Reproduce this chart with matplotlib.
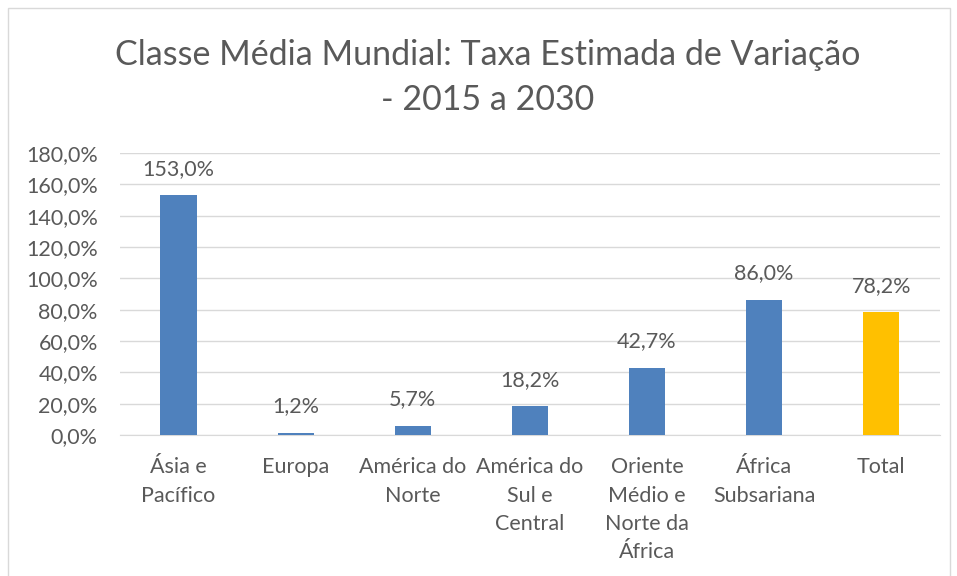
import matplotlib
matplotlib.use("Agg")
import matplotlib.pyplot as plt
from matplotlib.patches import Rectangle
from matplotlib.ticker import FuncFormatter

categories = [
    "Ásia e\nPacífico",
    "Europa",
    "América do\nNorte",
    "América do\nSul e\nCentral",
    "Oriente\nMédio e\nNorte da\nÁfrica",
    "África\nSubsariana",
    "Total",
]
values = [153.0, 1.2, 5.7, 18.2, 42.7, 86.0, 78.2]
bar_colors = ["#4F81BD"] * 6 + ["#FFC000"]

TEXT_COLOR = "#595959"
GRID_COLOR = "#D9D9D9"
FONT = ["Lato", "DejaVu Sans"]
LABEL_SIZE = 15.5


def pct(v):
    return f"{v:.1f}".replace(".", ",") + "%"


fig = plt.figure(figsize=(9.57, 5.76), dpi=100)
fig.patches.append(Rectangle((8 / 957, -0.1), 942 / 957, 1.1 - 8 / 576,
                             transform=fig.transFigure, fill=False,
                             edgecolor=GRID_COLOR, linewidth=1))

ax = fig.add_axes([0.1254, 0.2448, 0.8566, 0.4896])
x = range(len(categories))
bars = ax.bar(x, values, width=0.31, color=bar_colors, zorder=3)

for rect, v in zip(bars, values):
    ax.annotate(pct(v), (rect.get_x() + rect.get_width() / 2, v),
                xytext=(0, 12), textcoords="offset points",
                ha="center", va="bottom", fontsize=LABEL_SIZE,
                color=TEXT_COLOR, family=FONT)

ax.set_ylim(0, 180)
ax.set_xlim(-0.5, len(categories) - 0.5)
ax.set_yticks(range(0, 181, 20))
ax.yaxis.set_major_formatter(FuncFormatter(lambda v, _: pct(v)))
ax.set_xticks(list(x))
ax.set_xticklabels(categories, linespacing=1.52)
ax.grid(axis="y", color=GRID_COLOR, linewidth=1, zorder=0)
for side in ["top", "right", "left"]:
    ax.spines[side].set_visible(False)
ax.spines["bottom"].set_color(GRID_COLOR)
ax.tick_params(length=0, colors=TEXT_COLOR, labelsize=LABEL_SIZE)
ax.tick_params(axis="x", pad=16)
ax.tick_params(axis="y", pad=16)
for lbl in ax.get_xticklabels() + ax.get_yticklabels():
    lbl.set_family(FONT)

fig.text(0.51, 0.865, "Classe Média Mundial: Taxa Estimada de Variação\n- 2015 a 2030",
         ha="center", va="center", fontsize=24.5, color=TEXT_COLOR,
         family=FONT, linespacing=1.5)

fig.savefig("out.png", dpi=100)
